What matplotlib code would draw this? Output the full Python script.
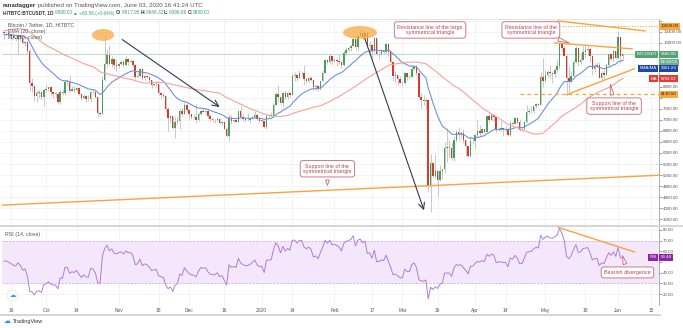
import numpy as np
import pandas as pd
import matplotlib
matplotlib.use('Agg')
import matplotlib.pyplot as plt
import matplotlib.dates as mdates
from matplotlib.patches import Ellipse, Rectangle

plt.rcParams['font.family'] = ['Liberation Sans', 'DejaVu Sans']

W, H = 683, 328

# ---- daily candles, BTCUSDT (HitBTC), 2019-09-13 .. 2020-06-03 ----
# closes before the visible window, only used to warm up EMA/MA/RSI
pre_close = [9880, 9850, 9480, 9530, 9510, 9590, 10090,
             10400, 10520, 10820, 10970, 11800, 11470, 11980, 11980, 11860, 11290, 11550, 11380, 10890, 10050,
             10300, 10360, 10230, 10330, 10920, 10760, 10130, 10120, 10410, 10140, 10130, 10360, 10170, 9720,
             9490, 9590, 9600,
             9770, 10390, 10630, 10580, 10570, 10320, 10480, 10400, 10340, 10110, 10160, 10410]

sep_close = [10360, 10360, 10310, 10250, 10190, 10160, 10270, 10170, 9990, 10030, 9700, 8530, 8440, 8060, 8190, 8200, 8040, 8300]
sep_high = [10440, 10420, 10380, 10360, 10270, 10260, 10300, 10290, 10180, 10080, 10050, 9790, 8710, 8480, 8290, 8290, 8230, 8330]
sep_low = [10150, 10280, 10250, 10100, 10150, 10080, 9600, 10080, 9960, 9890, 9620, 8260, 8220, 7880, 7870, 8000, 7960, 7720]

oct_close = [8330, 8390, 8230, 8150, 8150, 7860, 8210, 8180, 8590, 8590, 8270, 8330, 8290, 8360, 8160, 8000, 8080, 7970, 7960, 8230, 8200, 8030, 7470, 7430, 8660, 9250, 9550, 9250, 9430, 9190, 9150]
oct_high = [8510, 8400, 8410, 8240, 8210, 8170, 8310, 8330, 8660, 8640, 8820, 8420, 8420, 8400, 8410, 8170, 8130, 8100, 8100, 8300, 8330, 8300, 8050, 7510, 8790, 10370, 9790, 9940, 9510, 9430, 9430]
oct_low = [8210, 8240, 8070, 8000, 8050, 7790, 7780, 8120, 8120, 8460, 8230, 8260, 8200, 8260, 8090, 7930, 7980, 7850, 7890, 7870, 8150, 8000, 7300, 7360, 7400, 8600, 9140, 9200, 9120, 9050, 8970]

nov_close = [9250, 9300, 9200, 9400, 9320, 9340, 9210, 8780, 8810, 9040, 8720, 8800, 8760, 8640, 8460, 8490, 8500, 8180, 8120, 8080, 7610, 7280, 7330, 6900, 7110, 7160, 7520, 7430, 7750, 7550]
nov_high = [9270, 9380, 9380, 9510, 9460, 9420, 9370, 9220, 8900, 9100, 9060, 8850, 8820, 8780, 8650, 8520, 8620, 8500, 8200, 8180, 8110, 7670, 7370, 7330, 7350, 7330, 7640, 7630, 7860, 7820]
nov_low = [9080, 9200, 9130, 9150, 9210, 9290, 9120, 8700, 8750, 8780, 8650, 8670, 8720, 8590, 8380, 8430, 8410, 8090, 7960, 8030, 7500, 6790, 7090, 6860, 6530, 7060, 6880, 7360, 7420, 7480]

dec_close = [7400, 7310, 7300, 7200, 7400, 7540, 7500, 7520, 7340, 7220, 7200, 7190, 7250, 7080, 7110, 6890, 6620, 7280, 7150, 7190, 7140, 7510, 7320, 7250, 7200, 7200, 7250, 7310, 7390, 7220, 7170]
dec_high = [7550, 7420, 7420, 7770, 7490, 7570, 7620, 7570, 7640, 7400, 7270, 7250, 7300, 7290, 7170, 7140, 6940, 7430, 7370, 7220, 7190, 7520, 7690, 7430, 7270, 7440, 7270, 7360, 7530, 7420, 7320]
dec_low = [7240, 7240, 7260, 7080, 7150, 7370, 7490, 7440, 7290, 7170, 7140, 7080, 7180, 7040, 7030, 6860, 6580, 6450, 7060, 7110, 7110, 7130, 7270, 7160, 7140, 7160, 7080, 7250, 7300, 7200, 7140]

jan_close = [7180, 6950, 7340, 7350, 7360, 7760, 8150, 8050, 7820, 8190, 8020, 8180, 8110, 8810, 8820, 8720, 8900, 8910, 8700, 8630, 8730, 8660, 8400, 8440, 8340, 8610, 8910, 9390, 9290, 9510, 9350]
jan_high = [7250, 7210, 7400, 7400, 7500, 7800, 8210, 8460, 8050, 8200, 8280, 8200, 8190, 8880, 8950, 8850, 9010, 8980, 9190, 8720, 8770, 8800, 8670, 8510, 8460, 8620, 9020, 9410, 9430, 9590, 9540]
jan_low = [7170, 6920, 6870, 7270, 7330, 7350, 7730, 7870, 7750, 7680, 7980, 7970, 8050, 8100, 8600, 8610, 8710, 8810, 8480, 8530, 8560, 8610, 8300, 8250, 8270, 8300, 8600, 8890, 9240, 9220, 9240]

feb_close = [9390, 9350, 9300, 9180, 9620, 9760, 9810, 9900, 10160, 9850, 10270, 10350, 10230, 10360, 9900, 9930, 9700, 10180, 9590, 9610, 9690, 9660, 9960, 9660, 9310, 8790, 8820, 8690, 8540]
feb_high = [9450, 9470, 9600, 9350, 9700, 9850, 9860, 9950, 10180, 10160, 10300, 10480, 10500, 10390, 10380, 10060, 9970, 10220, 10190, 9660, 9770, 9700, 9990, 9990, 9670, 9340, 8990, 8830, 8790]
feb_low = [9310, 9170, 9250, 9100, 9170, 9550, 9710, 9690, 9880, 9730, 9710, 10240, 10100, 10170, 9850, 9630, 9460, 9620, 9560, 9400, 9570, 9590, 9640, 9520, 9270, 8620, 8540, 8470, 8530]

mar_close = [8530, 8910, 8760, 8760, 9070, 9150, 8900, 8030, 7930, 7890, 7940, 4830, 5620, 5170, 5360, 5030, 5330, 5410, 6190, 6200, 6190, 5810, 6480, 6760, 6700, 6740, 6480, 6250, 5880, 6420, 6440]
mar_high = [8620, 8950, 8900, 8840, 9160, 9170, 9180, 8900, 8170, 8110, 7960, 7940, 5960, 5650, 5950, 5370, 5560, 5430, 6410, 6920, 6460, 6400, 6600, 6840, 6960, 6800, 6870, 6290, 6260, 6600, 6530]
mar_low = [8420, 8500, 8650, 8680, 8750, 9020, 8850, 8000, 7630, 7740, 7600, 4580, 3850, 5080, 5100, 4450, 4990, 5070, 5260, 5690, 5860, 5760, 5720, 6390, 6470, 6530, 6380, 5890, 5870, 5860, 6340]

apr_close = [6640, 6800, 6740, 6860, 6780, 7330, 7200, 7370, 7300, 6860, 6890, 6910, 6860, 6870, 6640, 7100, 7050, 7260, 7130, 6850, 6860, 7130, 7480, 7510, 7540, 7690, 7780, 7760, 8780, 8620]
apr_high = [6680, 7200, 7000, 6900, 6880, 7360, 7460, 7420, 7380, 7300, 6950, 7180, 6910, 6990, 6940, 7180, 7150, 7310, 7260, 7230, 6920, 7150, 7740, 7620, 7700, 7700, 7800, 7800, 8950, 9460]
apr_low = [6160, 6590, 6610, 6680, 6690, 6770, 7140, 7150, 7160, 6760, 6790, 6810, 6630, 6780, 6620, 6600, 7000, 7040, 7060, 6790, 6810, 6850, 7100, 7400, 7450, 7470, 7650, 7710, 7740, 8400]

may_close = [8830, 8960, 8890, 8880, 9020, 9150, 9980, 9810, 9540, 8730, 8580, 8810, 9300, 9800, 9320, 9380, 9680, 9730, 9780, 9510, 9070, 9170, 9180, 8720, 8900, 8840, 9200, 9580, 9430, 9700, 9450]
may_high = [9020, 9020, 9180, 8950, 9080, 9400, 10000, 10040, 9900, 9570, 9160, 8970, 9370, 9900, 9800, 9590, 9890, 9940, 9900, 9830, 9570, 9270, 9310, 9290, 8980, 9010, 9220, 9620, 9600, 9740, 9700]
may_low = [8620, 8780, 8720, 8550, 8770, 8940, 9050, 9700, 9520, 8120, 8200, 8540, 8800, 9260, 9160, 9220, 9470, 9450, 9550, 9290, 8820, 8950, 9080, 8710, 8640, 8700, 8820, 9120, 9340, 9360, 9400]

jun_close = [10200, 9518, 9580]
jun_high = [10430, 10230, 9648]
jun_low = [9420, 9280, 9397]

close = np.array(sep_close + oct_close + nov_close + dec_close + jan_close + feb_close + mar_close + apr_close + may_close + jun_close, float)
high = np.array(sep_high + oct_high + nov_high + dec_high + jan_high + feb_high + mar_high + apr_high + may_high + jun_high, float)
low = np.array(sep_low + oct_low + nov_low + dec_low + jan_low + feb_low + mar_low + apr_low + may_low + jun_low, float)
opn = np.r_[pre_close[-1], close[:-1]]
high = np.maximum(high, np.maximum(opn, close))
low = np.minimum(low, np.minimum(opn, close))
dates = pd.date_range('2019-09-13', '2020-06-03', freq='D')
x = mdates.date2num(dates)

# indicators
s = pd.Series(pre_close + list(close))
n0 = len(pre_close)
ema20 = s.ewm(span=20, adjust=False).mean().values[n0:]
ma50 = s.rolling(50).mean().values[n0:]
delta = s.diff()
up = delta.clip(lower=0).ewm(alpha=1 / 14, adjust=False).mean()
dn = (-delta.clip(upper=0)).ewm(alpha=1 / 14, adjust=False).mean()
rsi = (100 - 100 / (1 + up / dn)).values[n0:]

tick_dates = ['2019-09-16', '2019-10-01', '2019-10-14', '2019-11-01', '2019-11-18', '2019-12-01', '2019-12-16',
              '2020-01-01', '2020-01-14', '2020-02-01', '2020-02-17', '2020-03-01', '2020-03-16', '2020-04-01',
              '2020-04-14', '2020-05-01', '2020-05-18', '2020-06-01', '2020-06-15']
tick_labels = ['16', 'Oct', '14', 'Nov', '18', 'Dec', '16', '2020', '14', 'Feb', '17', 'Mar', '16', 'Apr',
               '14', 'May', '18', 'Jun', '15']
price_ticks = list(range(3600, 10801, 400))
hidden_prices = [8000, 8800, 9200, 9600, 10800]


def d(t):
    return mdates.date2num(pd.Timestamp(t))


def fx(px):
    return px / W


def fy(py):
    return 1 - py / H


UP, DOWN, WICK = '#46a05c', '#d8392d', '#b3b3b3'
ORANGE = '#f9a43a'
NOTE = '#b8444f'
GRID = '#efefef'
FS_AX = 3.2

fig = plt.figure(figsize=(W / 100, H / 100), dpi=100)
ax = fig.add_axes([fx(2), fy(225), fx(659) - fx(2), fy(19) - fy(225)])
rx = fig.add_axes([fx(2), fy(305), fx(659) - fx(2), fy(227) - fy(305)], sharex=ax)

# ---- price pane ----
ax.set_xlim(d('2019-09-12 04:00'), d('2020-06-18 11:00'))
ax.set_ylim(3383, 10870)
ax.set_yticks(price_ticks)
ax.set_yticklabels(['' if p in hidden_prices else f'{p:.2f}' for p in price_ticks])
ax.yaxis.tick_right()
ax.tick_params(axis='y', labelsize=FS_AX, colors='#555555', length=2, width=0.4, pad=1)
ax.tick_params(axis='x', length=0, labelbottom=False)
ax.set_xticks([d(t) for t in tick_dates])
ax.grid(True, color=GRID, lw=0.5)
ax.set_axisbelow(True)
for sp in ['top', 'left', 'bottom']:
    ax.spines[sp].set_visible(False)
ax.spines['right'].set_color('#a0a0a0')
ax.spines['right'].set_linewidth(0.6)

ax.axhline(9580, color='#c5dccd', lw=0.8, zorder=1)

colors = np.where(close >= opn, UP, DOWN)
ax.vlines(x, low, high, color=WICK, lw=0.5, zorder=2)
body_h = np.maximum(np.abs(close - opn), 15)
ax.bar(x, body_h, bottom=np.minimum(opn, close), width=0.62, color=colors, lw=0, zorder=3)

ax.plot(x, ema20, color='#6f92d8', lw=0.8, zorder=4)
ax.plot(x, ma50, color='#f5a39b', lw=0.8, zorder=4)

# trend lines
ax.plot([d('2019-09-12 04:00'), d('2020-06-18 11:00')], [4106, 5192], color=ORANGE, lw=1.0, zorder=5)
ax.plot([d('2020-05-06 10:00'), d('2020-06-12 12:00')], [10800, 10436], color=ORANGE, lw=1.0, zorder=5)
ax.plot([d('2020-05-08'), d('2020-06-18 11:00')], [10600, 10600], color=ORANGE, lw=0.8, ls=(0, (1, 1.5)), zorder=5)
ax.plot([d('2020-05-05'), d('2020-06-07')], [10000, 9785], color=ORANGE, lw=1.0, zorder=5)
ax.plot([d('2020-05-10'), d('2020-06-08')], [8121, 9062], color=ORANGE, lw=1.0, zorder=5)
ax.plot([d('2020-04-20'), d('2020-06-18 11:00')], [8130.58, 8130.58], color=ORANGE, lw=0.9, ls=(0, (3, 2.5)), zorder=5)

# highlighted tops
ax.add_patch(Ellipse((d('2019-10-25 06:00'), 10290), 9.4, 430, fc='#f7a83e', ec='none', alpha=0.75, zorder=6))
ax.add_patch(Ellipse((d('2020-02-11 22:00'), 10380), 14.5, 470, fc='#f7a83e', ec='none', alpha=0.75, zorder=6))

# downtrend arrows
arrow = dict(arrowstyle='->,head_length=0.45,head_width=0.22', color='#2f3d4f', lw=0.8)
ax.annotate('', xy=(d('2019-12-15'), 7615), xytext=(d('2019-11-01 12:00'), 10180), arrowprops=arrow, zorder=6)
ax.annotate('', xy=(d('2020-03-10 14:00'), 3820), xytext=(d('2020-02-13 14:00'), 10255), arrowprops=arrow, zorder=6)

# callouts
box = dict(boxstyle='round,pad=0.55,rounding_size=0.5', fc='white', ec='#c76670', lw=0.6)
tail = dict(arrowstyle='wedge,tail_width=0.7,shrink_factor=0.5', fc='white', ec='#c76670', lw=0.6)
ax.text(d('2020-03-12 19:00'), 10472, 'Resistance line of the large\nsymmetrical triangle', fontsize=3.9,
        color=NOTE, ha='center', va='center', bbox=box, zorder=8, linespacing=1.1)
ax.annotate('Resistance line of the\nsymmetrical triangle', xy=(d('2020-05-12 07:00'), 9966),
            xytext=(d('2020-04-24 19:00'), 10472), ha='center', va='center', fontsize=3.9, color=NOTE,
            bbox=box, arrowprops=tail, zorder=8, linespacing=1.1)
ax.annotate('Support line of the\nsymmetrical triangle', xy=(d('2020-05-28 12:00'), 8591),
            xytext=(d('2020-05-30 07:00'), 7705), ha='center', va='center', fontsize=3.9, color=NOTE,
            bbox=box, arrowprops=tail, zorder=8, linespacing=1.1)
ax.annotate('Support line of the\nsymmetrical triangle', xy=(d('2020-01-29'), 4721),
            xytext=(d('2020-01-29'), 5427), ha='center', va='center', fontsize=3.9, color=NOTE,
            bbox=box, arrowprops=tail, zorder=8, linespacing=1.1)


# right axis badges
def badge(a, y, txt, fc, name=None, tc='white'):
    a.annotate(txt, xy=(1, y), xycoords=('axes fraction', 'data'), xytext=(1.2, 0), textcoords='offset points',
               ha='left', va='center', fontsize=FS_AX, color=tc, annotation_clip=False, zorder=10,
               bbox=dict(boxstyle='square,pad=0.3', fc=fc, ec='none'))
    if name:
        a.annotate(name, xy=(1, y), xycoords=('axes fraction', 'data'), xytext=(-1.6, 0), textcoords='offset points',
                   ha='right', va='center', fontsize=FS_AX, color=tc, annotation_clip=False, zorder=10,
                   bbox=dict(boxstyle='square,pad=0.3', fc=fc, ec='none'))


badge(ax, 10600, '10600.00', '#f7a83e', tc='#3b2a05')
badge(ax, 9580, '9580.00', '#52a46f', name='BTCUSDT')
badge(ax, 9290, '02:18:58', '#6bb285')
badge(ax, 9080, '9361.83', '#1f45a6', name='EMA/MA')
badge(ax, 8704.02, '8704.02', '#e63b35', name='MA')
badge(ax, 8130.58, '8130.58', '#f7a83e', tc='#3b2a05')

# ---- RSI pane ----
rx.set_ylim(9.7, 82.8)
rsi_ticks = [20, 30, 40, 50, 60, 70, 80]
rx.set_yticks(rsi_ticks)
rx.set_yticklabels(['' if r == 50 else f'{r:.2f}' for r in rsi_ticks])
rx.yaxis.tick_right()
rx.tick_params(axis='y', labelsize=FS_AX, colors='#555555', length=2, width=0.4, pad=1)
rx.set_xticks([d(t) for t in tick_dates])
rx.set_xticklabels(tick_labels)
rx.tick_params(axis='x', labelsize=FS_AX + 0.3, colors='#555555', length=0, pad=2)
rx.grid(True, color=GRID, lw=0.5)
rx.set_axisbelow(True)
for sp in ['top', 'left', 'bottom']:
    rx.spines[sp].set_visible(False)
rx.spines['right'].set_color('#a0a0a0')
rx.spines['right'].set_linewidth(0.6)

rx.axhspan(30, 70, color='#f4e6fc', lw=0, zorder=0.5)
rx.axhline(70, color='#c9a7de', lw=0.5, ls=(0, (3, 2)), zorder=1)
rx.axhline(30, color='#c9a7de', lw=0.5, ls=(0, (3, 2)), zorder=1)
rx.plot(x, rsi, color='#b27cd6', lw=0.7, zorder=3)
rx.plot([d('2020-05-06 10:00'), d('2020-06-08')], [82.5, 59.4], color=ORANGE, lw=1.0, zorder=4)
rx.annotate('Bearish divergence', xy=(d('2020-06-02 14:00'), 58.4), xytext=(d('2020-06-05'), 40.2),
            ha='center', va='center', fontsize=3.9, color=NOTE, bbox=box, arrowprops=tail, zorder=8)
badge(rx, 54.48, '54.48', '#8e24aa', name='RSI')

rx.text(0.004, 0.94, 'RSI (14, close)', transform=rx.transAxes, fontsize=3.8, color='#555555', va='top')
rx.text(0.016, 0.12, '\u2601', transform=rx.transAxes, fontsize=4.5, color='#2196f3', ha='center', va='center',
        family=['DejaVu Sans'], bbox=dict(boxstyle='circle,pad=0.35', fc='white', ec='#dddddd', lw=0.4))

# ---- chart legend ----
leg = dict(fontsize=3.8, color='#555555', va='center', ha='left')
fig.text(fx(8), fy(25), 'Bitcoin / Tether, 1D, HITBTC', **leg)
fig.text(fx(8), fy(31), 'EMA (20, close)', **leg)
fig.text(fx(8), fy(37), 'MA (50, close)', **leg)

# pane separators
fig.add_artist(Rectangle((0, fy(227)), 1, fy(224.5) - fy(227), transform=fig.transFigure, fc='#d6d6d6', ec='none'))
fig.add_artist(Rectangle((0, fy(316)), fx(661), fy(313.5) - fy(316), transform=fig.transFigure, fc='#d6d6d6', ec='none'))
fig.add_artist(Rectangle((0, fy(19.5)), fx(661), fy(18.5) - fy(19.5), transform=fig.transFigure, fc='#e4e4e4', ec='none'))

# ---- header ----
t = fig.text(fx(3), fy(6), 'ranadagger', fontsize=4.4, color='#333333', weight='bold', va='center')
ann = dict(xy=(1, 0), va='bottom', ha='left', annotation_clip=False)
fig.add_artist(plt.Annotation(' published on TradingView.com, June 03, 2020 16:41:24 UTC', xycoords=t,
                              fontsize=4.4, color='#555555', **ann))
GREEN = '#3aa372'
parts = [('HITBTC:BTCUSDT, 1D ', '#333333', 'bold'), ('9580.00 ', GREEN, 'normal'),
         ('\u25b2 +60.56 (+0.64%) ', GREEN, 'normal'), ('O:', '#333333', 'bold'), ('9517.95 ', GREEN, 'normal'),
         ('H:', '#333333', 'bold'), ('9648.32 ', GREEN, 'normal'), ('L:', '#333333', 'bold'),
         ('9396.86 ', GREEN, 'normal'), ('C:', '#333333', 'bold'), ('9580.00', GREEN, 'normal')]
prev = None
for txt, c, w in parts:
    if prev is None:
        prev = fig.text(fx(3), fy(13), txt, fontsize=3.4, color=c, weight=w, va='center')
    else:
        prev = fig.add_artist(plt.Annotation(txt, xycoords=prev, fontsize=3.4, color=c, weight=w, **ann))

# footer logo
fig.text(fx(4), fy(321), '\u2601', fontsize=5, color='#2196f3', va='center', family=['DejaVu Sans'])
fig.text(fx(13), fy(321), 'TradingView', fontsize=4, color='#333333', va='center')

fig.savefig('out.png', dpi=100)
